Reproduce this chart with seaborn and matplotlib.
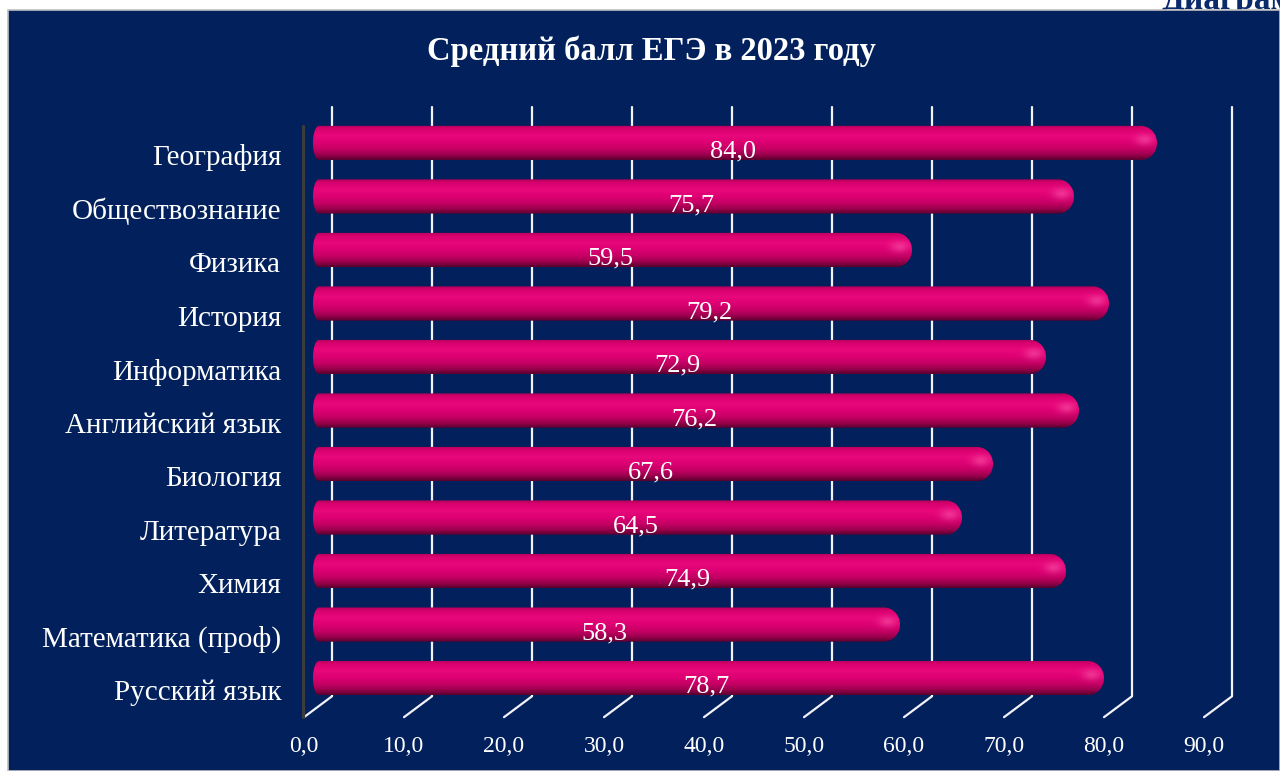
import numpy as np
import pandas as pd
import matplotlib
matplotlib.use("Agg")
import matplotlib.pyplot as plt
import matplotlib.transforms as mtransforms
from matplotlib.patches import Rectangle, Polygon
import seaborn as sns

# data
subjects = ["География", "Обществознание", "Физика", "История", "Информатика",
            "Английский язык", "Биология", "Литература", "Химия",
            "Математика (проф)", "Русский язык"]
scores = [84.0, 75.7, 59.5, 79.2, 72.9, 76.2, 67.6, 64.5, 74.9, 58.3, 78.7]
ticks = [0, 10, 20, 30, 40, 50, 60, 70, 80, 90]

title = "Средний балл ЕГЭ в 2023 году"
navy = "#01205c"

df = pd.DataFrame({"Предмет": subjects, "Балл": scores})

sns.set_style("white")
plt.rcParams["font.family"] = ["Liberation Serif", "DejaVu Serif"]

fig = plt.figure(figsize=(12.8, 7.71), dpi=100, facecolor="white")

# caption above the panel, cut off by the page edge as in the source
fig.text(1162 / 1280, 1 - 9 / 771, "Диаграмма", color="#0b2a6c", fontsize=24,
         fontweight="bold", ha="left", va="baseline", zorder=0.5)
# navy panel
fig.patches.append(Rectangle((8 / 1280, 0), 1 - 8 / 1280, 1 - 10 / 771,
                             transform=fig.transFigure, facecolor=navy,
                             edgecolor="#bfbfbf", lw=1.2, zorder=1))

ax = fig.add_axes([302 / 1280, 1 - 730 / 771, 965 / 1280, 640 / 771])
ax.set_zorder(2)
ax.patch.set_alpha(0)

sns.barplot(data=df, x="Балл", y="Предмет", orient="h", width=0.64,
            color="#e0006f", ax=ax)

# 3d-like grid: back plane verticals + diagonals to the floor front
back, front = 1.5, -1.3
y_top, y_back, y_front = -0.68, 10.34, 10.73
for t in ticks:
    ax.plot([t + back, t + back], [y_top, y_back], color="#f2f2f8", lw=1.6, zorder=0.5)
    ax.plot([t + back, t + front], [y_back, y_front], color="#f2f2f8", lw=1.6, zorder=0.5)
ax.plot([-1.4, -1.4], [-0.32, y_front], color="#3c3c3c", lw=2.4, zorder=0.6)

# cylinder shading for each bar
stops = [0.0, 0.1, 0.3, 0.5, 0.7, 0.86, 1.0]
cols = ["#b3005a", "#d8006e", "#e8087c", "#dd0073", "#c30063", "#98004c", "#5a002e"]
rgb = np.array([matplotlib.colors.to_rgb(c) for c in cols])
prof_t = np.linspace(0, 1, 60)
profile = np.stack([np.interp(prof_t, stops, rgb[:, k]) for k in range(3)], axis=-1)

for p, v in zip(ax.patches, scores):
    p.set_visible(False)
    y0, h = p.get_y(), p.get_height()
    x0, x1 = -0.4, p.get_x() + p.get_width()
    nx = int((x1 - x0) * 4) + 2
    xs = np.linspace(x0, x1, nx)
    img = np.repeat(profile[:, None, :], nx, axis=1)
    # soft highlight at the right cap
    dx = (xs[None, :] - (x1 - 1.1)) / 0.9
    dy = (prof_t[:, None] - 0.42) / 0.16
    g = np.exp(-(dx ** 2 + dy ** 2))[:, :, None] * 0.45
    img = img * (1 - g) + np.array(matplotlib.colors.to_rgb("#ff6ab4")) * g
    im = ax.imshow(img, extent=(x0, x1, y0 + h, y0), origin="upper",
                   aspect="auto", zorder=2, interpolation="bilinear")
    yc, hh = y0 + h / 2, h / 2
    th = np.linspace(-np.pi / 2, np.pi / 2, 40)
    rr, rl = 1.6, 0.6
    right = np.column_stack([x1 - rr + rr * np.cos(th), yc + hh * np.sin(th)])
    left = np.column_stack([x0 + rl - rl * np.cos(th[::-1]), yc + hh * np.sin(th[::-1])])
    clip = Polygon(np.vstack([right, left]), closed=True, transform=ax.transData)
    im.set_clip_path(clip)

    ax.text(v / 2 - 0.4, yc + 0.16, f"{v:.1f}".replace(".", ","), color="white",
            fontsize=19, ha="center", va="center", zorder=3)

ax.set_xlim(-1.5, 95)
ax.set_ylim(10.97, -0.99)

ax.set_xticks([t + front for t in ticks])
ax.set_xticklabels([f"{t:.1f}".replace(".", ",") for t in ticks])
ax.tick_params(axis="x", length=0, pad=4, labelsize=17, labelcolor="white")
ax.tick_params(axis="y", length=0, pad=15, labelsize=21, labelcolor="white")
shift = mtransforms.ScaledTranslation(0, -12 / 100, fig.dpi_scale_trans)
for lab in ax.get_yticklabels():
    lab.set_transform(lab.get_transform() + shift)

ax.set_xlabel("")
ax.set_ylabel("")
for s in ax.spines.values():
    s.set_visible(False)
ax.grid(False)

fig.text(651 / 1280, 1 - 51 / 771, title, color="white", fontsize=23.5,
         fontweight="bold", ha="center", va="center", zorder=3)

fig.savefig("out.png", dpi=100, facecolor="white")
